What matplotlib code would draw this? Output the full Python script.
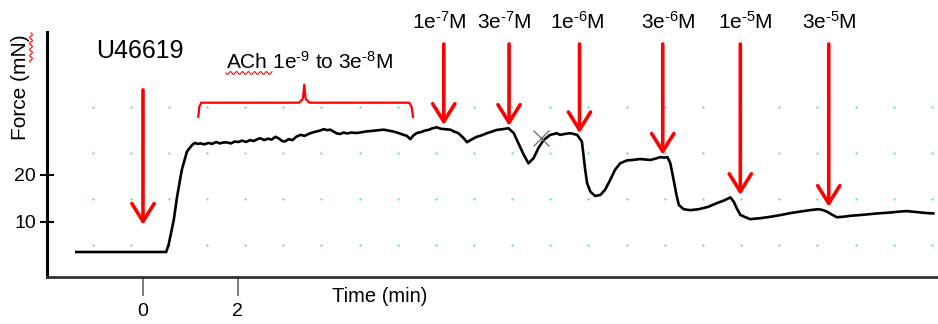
import numpy as np
import matplotlib
matplotlib.use("Agg")
import matplotlib.pyplot as plt
from matplotlib.lines import Line2D

plt.rcParams['font.family'] = ['Liberation Sans', 'DejaVu Sans']
plt.rcParams['mathtext.fontset'] = 'custom'
plt.rcParams['mathtext.rm'] = 'Liberation Sans'
plt.rcParams['mathtext.it'] = 'Liberation Sans:italic'

# ---- data: force trace (time in min, force in mN) ----
time_min = [-1.41, 0.49, 0.54, 0.65, 0.72, 0.82, 0.93, 1.04, 1.10, 1.16, 1.21, 1.30,
            1.38, 1.46, 1.55, 1.62, 1.70, 1.78, 1.86, 1.94, 2.02, 2.10, 2.18, 2.26,
            2.34, 2.42, 2.48, 2.56, 2.64, 2.72, 2.80, 2.88, 2.94, 3.00, 3.08, 3.16,
            3.24, 3.33, 3.42, 3.50, 3.58, 3.66, 3.74, 3.82, 3.90, 3.96, 4.03, 4.10,
            4.17, 4.24, 4.32, 4.40, 4.50, 4.59, 4.70, 4.80, 4.90, 5.00, 5.09, 5.20,
            5.30, 5.40, 5.51, 5.58, 5.65, 5.72, 5.79, 5.88, 5.96, 6.05, 6.12, 6.22,
            6.29, 6.40, 6.50, 6.58, 6.67, 6.78, 6.85, 6.96, 7.06, 7.16, 7.27, 7.38,
            7.48, 7.60, 7.73, 7.84, 7.94, 8.05, 8.15, 8.26, 8.36, 8.47, 8.61, 8.75,
            8.82, 8.92, 9.03, 9.10, 9.18, 9.28, 9.31, 9.35, 9.39, 9.46, 9.56, 9.67,
            9.77, 9.88, 9.98, 10.09, 10.23, 10.35, 10.51, 10.62, 10.73, 10.84, 10.94,
            11.02, 11.09, 11.15, 11.22, 11.28, 11.33, 11.43, 11.57, 11.75, 11.95,
            12.14, 12.30, 12.42, 12.49, 12.55, 12.63, 12.74, 12.84, 13.05, 13.27,
            13.50, 13.70, 13.90, 14.10, 14.28, 14.38, 14.46, 14.56, 14.67, 14.80,
            14.95, 15.20, 15.52, 15.80, 16.00, 16.15, 16.35, 16.55, 16.71]
force_mN = [3.66, 3.66, 5.14, 10.4, 15.3, 21.0, 24.9, 26.3, 26.7, 26.5, 26.6, 26.4,
            26.7, 26.5, 26.9, 26.6, 26.8, 26.8, 26.6, 27.0, 26.9, 27.2, 26.9, 27.3,
            27.1, 27.5, 27.7, 27.3, 27.6, 27.4, 28.0, 27.6, 27.1, 27.0, 27.5, 27.3,
            28.0, 28.4, 28.2, 28.6, 28.9, 29.1, 29.3, 29.6, 29.4, 29.5, 29.1, 28.7,
            28.6, 28.9, 28.7, 28.9, 28.8, 28.9, 29.1, 29.2, 29.3, 29.4, 29.5, 29.3,
            29.1, 28.8, 28.4, 28.2, 27.5, 28.3, 28.8, 29.0, 29.3, 29.5, 29.8, 30.0,
            29.7, 29.6, 29.5, 29.1, 28.75, 27.7, 26.85, 27.5, 28.0, 28.3, 28.75, 29.1,
            29.45, 29.6, 29.8, 28.75, 26.6, 24.2, 22.4, 23.5, 25.6, 27.3, 28.4, 28.75,
            28.4, 28.6, 28.75, 28.6, 28.4, 27.0, 24.5, 21.0, 18.2, 16.4, 15.5, 15.7,
            16.8, 18.9, 21.0, 22.4, 23.0, 23.1, 23.3, 23.2, 23.1, 23.4, 23.7,
            23.6, 23.7, 22.4, 18.9, 15.7, 13.6, 12.7, 12.5, 12.7, 13.2,
            14.0, 14.6, 15.2, 14.3, 13.0, 11.5, 11.0, 10.6, 10.8, 11.1,
            11.5, 11.9, 12.2, 12.5, 12.7, 12.5, 12.2, 11.6, 11.0, 11.1,
            11.3, 11.5, 11.8, 12.0, 12.2, 12.3, 12.1, 11.9, 11.8]

# ---- annotations ----
dose_labels = ['1e$^{\\mathrm{\u20107}}$M', '3e$^{\\mathrm{\u20107}}$M',
               '1e$^{\\mathrm{\u20106}}$M', '3e$^{\\mathrm{\u20106}}$M',
               '1e$^{\\mathrm{\u20105}}$M', '3e$^{\\mathrm{\u20105}}$M']
dose_times = [6.36, 7.74, 9.23, 10.99, 12.63, 14.50]
dose_tips = [30.5, 30.3, 28.75, 24.2, 15.7, 13.2]
dose_label_x = [6.26, 7.64, 9.18, 11.11, 12.73, 14.52]
u466_time = 0.0
u466_tip = 9.4
x_ticks = [0, 2]
y_ticks = [10, 20]

W, H = 938, 324
fig = plt.figure(figsize=(W / 100, H / 100), dpi=100)
ax = fig.add_axes([47 / W, (H - 276.7) / H, 1 - 47 / W, (276.7 - 31.7) / H])
ax.set_xlim(-2.03, 16.81)
ax.set_ylim(-1.56, 50.2)

# cyan dotted grid
gx = -1.066 + 0.8066 * np.arange(23)
gy = [5.1, 14.8, 24.5, 34.25]
GX, GY = np.meshgrid(gx, gy)
ax.scatter(GX.ravel(), GY.ravel(), s=2.5, color='#3fe0e8', linewidths=0, zorder=1)

ax.plot(time_min, force_mN, color='black', lw=1.9, zorder=3)

# cursor cross artifact
ax.plot([8.42], [27.8], marker='x', ms=11, color='#777777', mew=1.0, zorder=4)

for s in ['top', 'right']:
    ax.spines[s].set_visible(False)
ax.spines['left'].set_linewidth(2.2)
ax.spines['bottom'].set_linewidth(2.0)
ax.spines['bottom'].set_color('#333333')

ax.set_xticks(x_ticks)
ax.set_yticks(y_ticks)
ax.tick_params(axis='x', direction='out', length=14, width=1.2, color='#666666',
               labelsize=14, pad=5)
ax.tick_params(axis='y', direction='inout', length=10, width=1.5, color='black',
               labelsize=14, pad=3)

arrow_kw = dict(arrowstyle='->, head_length=0.4, head_width=0.25', color='red',
                lw=2.6, mutation_scale=32, shrinkA=0, shrinkB=0)

ax.annotate('', xy=(u466_time, u466_tip), xytext=(u466_time, 37.9),
            arrowprops=arrow_kw, zorder=5)
ax.text(-0.06, 46.2, 'U46619', fontsize=18, ha='center', va='center')

for t, tip, lab, lx in zip(dose_times, dose_tips, dose_labels, dose_label_x):
    ax.annotate('', xy=(t, tip), xytext=(t, 47.6), arrowprops=arrow_kw,
                annotation_clip=False, zorder=5)
    ax.text(lx, 52.3, lab, fontsize=15, ha='center', va='center', clip_on=False)

# bracket for ACh cumulative doses
bx = [1.17, 1.19, 1.23, 3.30, 3.38, 3.41, 3.44, 3.52, 5.63, 5.68, 5.71]
by = [32.2, 34.3, 35.2, 35.2, 36.0, 39.0, 36.0, 35.2, 35.2, 34.3, 32.2]
ax.plot(bx, by, color='red', lw=1.6, zorder=5, clip_on=False)
ax.text(1.76, 43.8, 'ACh 1e$^{\\mathrm{\u20109}}$ to 3e$^{\\mathrm{\u20108}}$M',
        fontsize=15, ha='left', va='center')

fig.text(20 / W, 1 - 87 / H, 'Force (mN)', rotation=90, fontsize=15,
         ha='center', va='center')
fig.text(380 / W, 1 - 297 / H, 'Time (min)', fontsize=14.5, ha='center', va='center')

# spell-check squiggles
sx = np.linspace(226, 272, 60)
sy = 73 + 1.4 * np.sin((sx - 226) * 2 * np.pi / 6)
fig.add_artist(Line2D(sx / W, 1 - sy / H, color='red', lw=0.8, transform=fig.transFigure))
qy = np.linspace(33, 62, 40)
qx = 31 + 1.4 * np.sin((qy - 33) * 2 * np.pi / 6)
fig.add_artist(Line2D(qx / W, 1 - qy / H, color='red', lw=0.8, transform=fig.transFigure))

fig.savefig('out.png', dpi=100)
